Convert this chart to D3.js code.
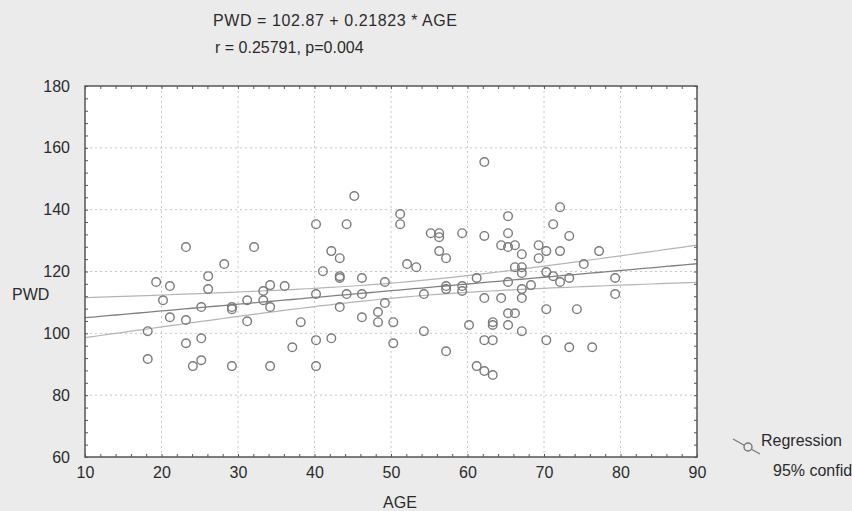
<!DOCTYPE html>
<html>
<head>
<meta charset="utf-8">
<script src="https://cdn.jsdelivr.net/npm/d3@7"></script>
<style>
  body { margin: 0; background: #ebebeb; }
  svg { display: block; font-family: "Liberation Sans", Arial, sans-serif; }
</style>
</head>
<body>
<script>
// data
var age = [18.2, 18.2, 19.3, 20.2, 21.1, 21.1, 23.2, 23.2, 23.2, 24.1,
  25.2, 25.2, 25.2, 26.1, 26.1, 28.2, 29.2, 29.2, 29.2, 31.2,
  31.2, 32.1, 33.3, 33.3, 34.2, 34.2, 34.2, 36.1, 37.1, 38.2,
  40.2, 40.2, 40.2, 40.2, 41.1, 42.2, 42.2, 43.3, 43.3, 43.3,
  43.3, 44.2, 44.2, 45.2, 46.2, 46.2, 46.2, 48.3, 48.3, 49.2,
  49.2, 50.3, 50.3, 51.2, 51.2, 52.1, 53.3, 54.3, 54.3, 55.2,
  56.3, 56.3, 56.3, 57.2, 57.2, 57.2, 57.2, 59.3, 59.3, 59.3,
  60.2, 61.2, 61.2, 62.2, 62.2, 62.2, 62.2, 62.2, 63.3, 63.3,
  63.3, 63.3, 64.4, 64.4, 65.3, 65.3, 65.3, 65.3, 65.3, 65.3,
  66.2, 66.2, 66.2, 67.1, 67.1, 67.1, 67.1, 67.1, 67.1, 68.3,
  69.3, 69.3, 70.3, 70.3, 70.3, 70.3, 71.2, 71.2, 72.1, 72.1,
  72.1, 73.3, 73.3, 73.3, 74.3, 75.2, 76.3, 77.2, 79.3, 79.3];
var pwd = [91.7, 100.7, 116.6, 110.7, 115.3, 105.2, 127.9, 104.3, 96.8, 89.4,
  108.5, 98.4, 91.3, 118.5, 114.3, 122.4, 108.5, 107.8, 89.4, 110.7,
  103.9, 127.9, 113.7, 110.7, 115.6, 108.5, 89.4, 115.3, 95.5, 103.6,
  135.3, 112.7, 97.8, 89.4, 120.1, 126.6, 98.4, 124.3, 118.5, 117.9,
  108.5, 135.3, 112.7, 144.4, 117.9, 112.7, 105.2, 106.9, 103.6, 116.6,
  109.8, 103.6, 96.8, 138.6, 135.3, 122.4, 121.4, 112.7, 100.7, 132.4,
  132.4, 131.1, 126.6, 124.3, 115.3, 114.3, 94.2, 132.4, 115.3, 113.7,
  102.7, 117.9, 89.4, 155.4, 131.5, 111.4, 97.8, 87.8, 97.8, 103.6,
  102.7, 86.5, 128.5, 111.4, 137.9, 132.4, 127.9, 116.6, 106.5, 102.7,
  128.5, 121.4, 106.5, 125.6, 121.4, 119.5, 114.3, 111.4, 100.7, 115.6,
  128.5, 124.3, 126.6, 119.8, 107.8, 97.8, 135.3, 118.5, 140.8, 126.6,
  116.6, 131.5, 117.9, 95.5, 107.8, 122.4, 95.5, 126.6, 117.9, 112.7];

var intercept = 102.87;
var slope = 0.21823;
var xTicks = [10, 20, 30, 40, 50, 60, 70, 80, 90];
var yTicks = [60, 80, 100, 120, 140, 160, 180];

const width = 852;
const height = 511;
const fontSize = 16;
const textColor = "#2b2b2b";

var svg = d3.select("body").append("svg")
  .attr("width", width)
  .attr("height", height);

var x = d3.scaleLinear().domain([10, 90]).range([85, 697]);
var y = d3.scaleLinear().domain([60, 180]).range([457, 86]);

// plot area
svg.append("rect")
  .attr("x", x(10)).attr("y", y(180))
  .attr("width", x(90) - x(10)).attr("height", y(60) - y(180))
  .attr("fill", "#fff");

// dotted grid
svg.append("g").selectAll("line")
  .data(xTicks.slice(1, -1))
  .enter().append("line")
  .attr("x1", d => x(d)).attr("x2", d => x(d))
  .attr("y1", y(180)).attr("y2", y(60))
  .attr("stroke", "#c8c8c8").attr("stroke-dasharray", "2,3");
svg.append("g").selectAll("line")
  .data(yTicks.slice(1, -1))
  .enter().append("line")
  .attr("y1", d => y(d)).attr("y2", d => y(d))
  .attr("x1", x(10)).attr("x2", x(90))
  .attr("stroke", "#c8c8c8").attr("stroke-dasharray", "2,3");

// regression line + 95% band (half width from residuals)
var n = age.length;
var mx = d3.mean(age);
var sxx = d3.sum(age, a => (a - mx) * (a - mx));
var sse = d3.sum(age, (a, i) => Math.pow(pwd[i] - (intercept + slope * a), 2));
var s = Math.sqrt(sse / (n - 2));
var t = 1.98;
var xs = d3.range(10, 90.01, 1);
function band(sign) {
  return xs.map(a => [a, intercept + slope * a + sign * t * s * Math.sqrt(1 / n + (a - mx) * (a - mx) / sxx)]);
}
var line = d3.line().x(d => x(d[0])).y(d => y(d[1]));

svg.append("path").datum(band(1)).attr("d", line)
  .attr("fill", "none").attr("stroke", "#b4b4b4").attr("stroke-width", 1.2);
svg.append("path").datum(band(-1)).attr("d", line)
  .attr("fill", "none").attr("stroke", "#b4b4b4").attr("stroke-width", 1.2);
svg.append("path").datum(band(0)).attr("d", line)
  .attr("fill", "none").attr("stroke", "#808080").attr("stroke-width", 1.3);

// points
svg.append("g").selectAll("circle")
  .data(age)
  .enter().append("circle")
  .attr("cx", d => x(d))
  .attr("cy", (d, i) => y(pwd[i]))
  .attr("r", 4.3)
  .attr("fill", "none")
  .attr("stroke", "#7a7a7a")
  .attr("stroke-width", 1.4);

// minor ticks on all four sides, pointing inward
var minorX = d3.range(10, 90.01, 2);
var minorY = d3.range(60, 180.01, 4);
function styleAxis(g) {
  g.select(".domain").remove();
  g.selectAll(".tick line").attr("stroke", "#555");
  g.selectAll("text").remove();
}
svg.append("g").attr("transform", "translate(0," + y(60) + ")")
  .call(d3.axisBottom(x).tickValues(minorX).tickSize(-3)).call(styleAxis);
svg.append("g").attr("transform", "translate(0," + y(180) + ")")
  .call(d3.axisTop(x).tickValues(minorX).tickSize(-3)).call(styleAxis);
svg.append("g").attr("transform", "translate(" + x(10) + ",0)")
  .call(d3.axisLeft(y).tickValues(minorY).tickSize(-3)).call(styleAxis);
svg.append("g").attr("transform", "translate(" + x(90) + ",0)")
  .call(d3.axisRight(y).tickValues(minorY).tickSize(-3)).call(styleAxis);

// frame
svg.append("rect")
  .attr("x", x(10)).attr("y", y(180))
  .attr("width", x(90) - x(10)).attr("height", y(60) - y(180))
  .attr("fill", "none").attr("stroke", "#555").attr("stroke-width", 1.5);

// tick labels
var xl = svg.append("g").attr("transform", "translate(0," + (y(60) + 6) + ")")
  .call(d3.axisBottom(x).tickValues(xTicks).tickSize(0).tickPadding(4));
xl.select(".domain").remove();
xl.selectAll("text").attr("font-size", fontSize).attr("fill", textColor)
  .attr("font-family", "Liberation Sans, Arial, sans-serif");

var yl = svg.append("g").attr("transform", "translate(" + (x(10) - 15) + ",0)")
  .call(d3.axisLeft(y).tickValues(yTicks).tickSize(0).tickPadding(0));
yl.select(".domain").remove();
yl.selectAll("text").attr("font-size", fontSize).attr("fill", textColor)
  .attr("font-family", "Liberation Sans, Arial, sans-serif");

// titles
svg.append("text").attr("x", 213).attr("y", 26)
  .attr("font-size", fontSize).attr("fill", textColor)
  .attr("textLength", 244).attr("lengthAdjust", "spacing")
  .text("PWD = 102.87 + 0.21823 * AGE");
svg.append("text").attr("x", 215).attr("y", 53)
  .attr("font-size", fontSize).attr("fill", textColor)
  .text("r = 0.25791, p=0.004");
svg.append("text").attr("x", 12).attr("y", 300)
  .attr("font-size", fontSize).attr("fill", textColor)
  .text("PWD");
svg.append("text").attr("x", 400).attr("y", 508)
  .attr("text-anchor", "middle")
  .attr("font-size", fontSize).attr("fill", textColor)
  .text("AGE");

// legend
svg.append("line")
  .attr("x1", 733).attr("y1", 439).attr("x2", 760).attr("y2", 454)
  .attr("stroke", "#777").attr("stroke-width", 1.3);
svg.append("circle").attr("cx", 748).attr("cy", 447).attr("r", 4)
  .attr("fill", "#ebebeb").attr("stroke", "#777").attr("stroke-width", 1.4);
svg.append("text").attr("x", 761).attr("y", 446)
  .attr("font-size", fontSize).attr("fill", textColor).text("Regression");
svg.append("text").attr("x", 773).attr("y", 476)
  .attr("font-size", fontSize).attr("fill", textColor).text("95% confidence");
</script>
</body>
</html>
